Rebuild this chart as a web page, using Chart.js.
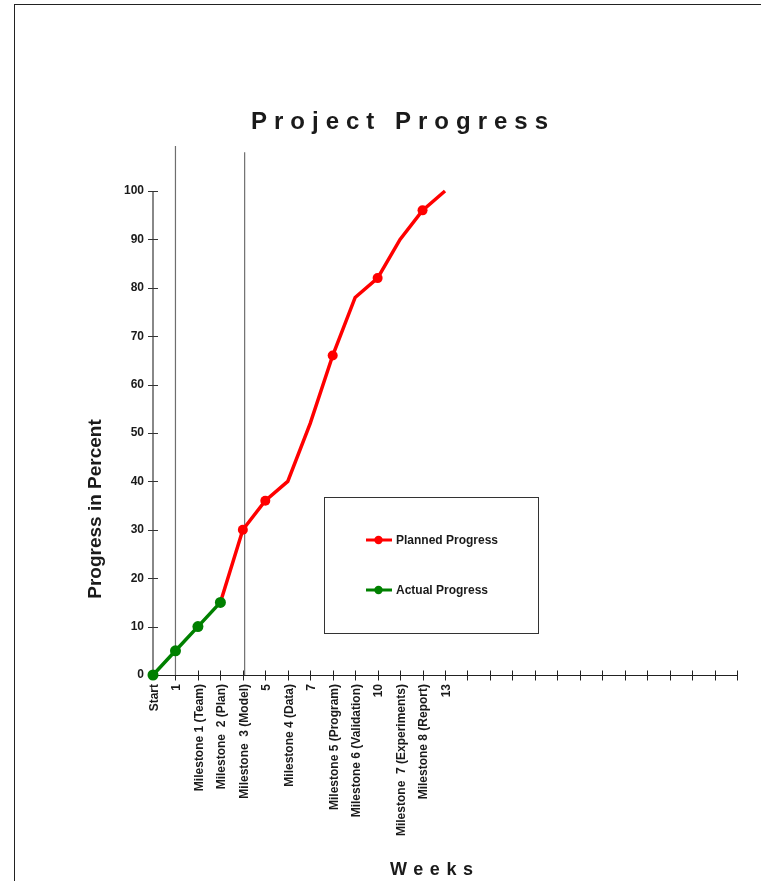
<!DOCTYPE html>
<html>
<head>
<meta charset="utf-8">
<script src="https://cdn.jsdelivr.net/npm/chart.js@4.4.1/dist/chart.umd.min.js"></script>
<style>
  html, body { margin: 0; padding: 0; background: #fff; overflow: hidden; }
  #wrap { position: relative; width: 761px; height: 881px; }
  #frame { position: absolute; left: 14px; top: 4px; width: 900px; height: 1000px;
           border-left: 1px solid #222; border-top: 1px solid #222; }
  canvas { position: absolute; left: 0; top: 0; }
</style>
</head>
<body>
<div id="wrap">
  <div id="frame"></div>
  <canvas id="c" width="761" height="881"></canvas>
</div>
<script>
// ---- data ----
const weekLabels = ["Start", "1", "Milestone 1 (Team)", "Milestone  2 (Plan)", "Milestone  3 (Model)", "5",
  "Milestone 4 (Data)", "7", "Milestone 5 (Program)", "Milestone 6 (Validation)", "10",
  "Milestone  7 (Experiments)", "Milestone 8 (Report)", "13"];
const axisMaxWeek = 26;
const plannedProgress = [null, null, null, 15, 30, 36, 40, 52, 66, 78, 82, 90, 96, 100];
const actualProgress = [0, 5, 10, 15];
const plannedMarkerWeeks = [4, 5, 8, 10, 12];
const refLineWeeks = [1, 4.08];
const refLineTops = [109.3, 108];
const yTicks = [0, 10, 20, 30, 40, 50, 60, 70, 80, 90, 100];

const FONT = '"Liberation Sans", Arial, sans-serif';
const RED = '#ff0000', GREEN = '#008000', TXT = '#1a1a1a';

const toPts = arr => arr.map((v, i) => ({x: i, y: v}));

const datasets = [
  { label: 'Actual Progress', data: toPts(actualProgress), borderColor: GREEN, backgroundColor: GREEN,
    borderWidth: 3.5, pointRadius: 5.5, pointHoverRadius: 5.5, pointBorderWidth: 0, clip: false, tension: 0 },
  { label: 'Planned Progress', data: toPts(plannedProgress), borderColor: RED, backgroundColor: RED,
    borderWidth: 3.5, pointBorderWidth: 0, clip: false, tension: 0, spanGaps: false,
    pointRadius: ctx => plannedMarkerWeeks.includes(ctx.dataIndex) ? 5 : 0 },
];
refLineWeeks.forEach((w, i) => {
  datasets.push({ label: 'ref' + i, data: [{x: w, y: 0}, {x: w, y: refLineTops[i]}],
    borderColor: '#6e6e6e', borderWidth: 1.2, pointRadius: 0, clip: false, isRef: true });
});

function spacedText(ctx, text, left, base, width) {
  ctx.letterSpacing = '0px';
  const w = ctx.measureText(text).width;
  const n = text.length - 1;
  ctx.letterSpacing = ((width - w) / n) + 'px';
  ctx.textAlign = 'left';
  ctx.fillText(text, left, base);
  ctx.letterSpacing = '0px';
}

const deco = {
  id: 'deco',
  beforeDatasetsDraw(chart) {
    const ctx = chart.ctx, xs = chart.scales.x, ys = chart.scales.y;
    ctx.save();
    const x0 = xs.getPixelForValue(0);
    // y axis line
    ctx.strokeStyle = '#888'; ctx.lineWidth = 2;
    ctx.beginPath(); ctx.moveTo(x0, ys.getPixelForValue(100));
    ctx.lineTo(x0, ys.getPixelForValue(0)); ctx.stroke();
    // y ticks
    ctx.strokeStyle = '#333'; ctx.lineWidth = 1;
    yTicks.forEach(v => { const y = Math.round(ys.getPixelForValue(v)) + 0.5;
      ctx.beginPath(); ctx.moveTo(x0 - 5, y); ctx.lineTo(x0 + 5, y); ctx.stroke(); });
    // x axis line
    const y0 = Math.round(ys.getPixelForValue(0)) + 0.5;
    ctx.strokeStyle = '#222'; ctx.lineWidth = 1.2;
    ctx.beginPath(); ctx.moveTo(x0, y0); ctx.lineTo(xs.getPixelForValue(axisMaxWeek), y0); ctx.stroke();
    ctx.lineWidth = 1;
    for (let w = 1; w <= axisMaxWeek; w++) {
      const x = Math.round(xs.getPixelForValue(w)) + 0.5;
      ctx.beginPath(); ctx.moveTo(x, y0 - 5); ctx.lineTo(x, y0 + 5); ctx.stroke();
    }
    ctx.restore();
  },
  afterDraw(chart) {
    const ctx = chart.ctx;
    ctx.save();
    ctx.fillStyle = TXT;
    ctx.textBaseline = 'alphabetic';
    // title
    ctx.font = 'bold 24px ' + FONT;
    spacedText(ctx, 'Project Progress', 251, 129, 297);
    // x title
    ctx.font = 'bold 18px ' + FONT;
    spacedText(ctx, 'Weeks', 390, 875, 83);
    // y title
    ctx.font = 'bold 19px ' + FONT;
    ctx.translate(101, 509); ctx.rotate(-Math.PI / 2);
    ctx.textAlign = 'center';
    ctx.fillText('Progress in Percent', 0, 0);
    ctx.restore();

    // legend
    ctx.save();
    ctx.fillStyle = '#fff'; ctx.fillRect(324.5, 497.5, 214, 136);
    ctx.strokeStyle = '#333'; ctx.lineWidth = 1;
    ctx.strokeRect(324.5, 497.5, 214, 136);
    const items = [chart.data.datasets[1], chart.data.datasets[0]];
    items.forEach((ds, i) => {
      const y = 540 + i * 50;
      ctx.strokeStyle = ds.borderColor; ctx.lineWidth = 3;
      ctx.beginPath(); ctx.moveTo(366, y); ctx.lineTo(392, y); ctx.stroke();
      ctx.fillStyle = ds.backgroundColor;
      ctx.beginPath(); ctx.arc(378.5, y, 4.2, 0, Math.PI * 2); ctx.fill();
      ctx.fillStyle = TXT; ctx.font = 'bold 12px ' + FONT;
      ctx.textAlign = 'left'; ctx.textBaseline = 'middle';
      ctx.fillText(ds.label, 396, y + 0.5);
    });
    ctx.restore();
  }
};

new Chart(document.getElementById('c'), {
  type: 'line',
  data: { datasets },
  options: {
    responsive: false, animation: false, devicePixelRatio: 1,
    layout: { padding: { left: 0, top: 191, right: 24, bottom: 0 } },
    plugins: { legend: { display: false }, tooltip: { enabled: false }, title: { display: false } },
    events: [],
    scales: {
      x: {
        type: 'linear', min: 0, max: axisMaxWeek,
        afterFit: s => { s.height = 206; },
        border: { display: false },
        grid: { display: false, drawTicks: false },
        ticks: {
          stepSize: 1, autoSkip: false, minRotation: 90, maxRotation: 90, padding: 9, labelOffset: 1.5,
          color: TXT, font: { family: FONT, size: 12, weight: 'bold' },
          callback: v => weekLabels[v] !== undefined ? weekLabels[v] : ''
        }
      },
      y: {
        min: 0, max: 100,
        afterFit: s => { s.width = 153; },
        border: { display: false },
        grid: { display: false, drawTicks: false },
        ticks: { stepSize: 10, padding: 9, color: TXT, font: { family: FONT, size: 12, weight: 'bold' } }
      }
    }
  },
  plugins: [deco]
});
</script>
</body>
</html>
